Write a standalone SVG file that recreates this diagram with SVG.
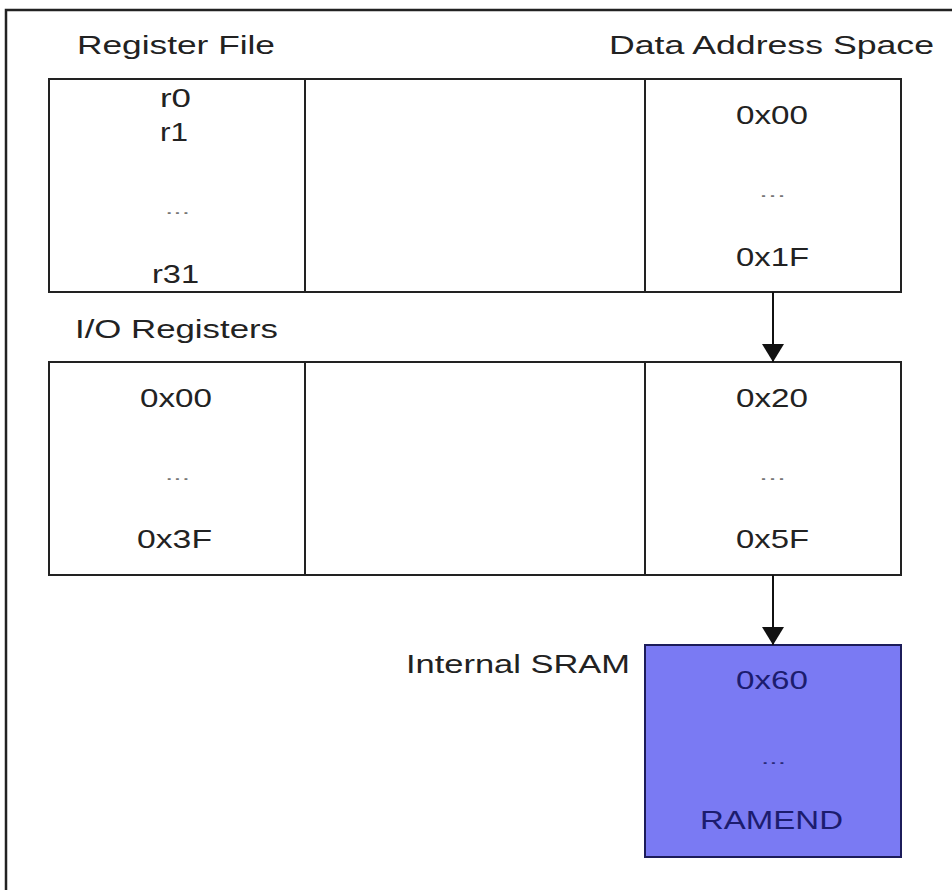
<svg xmlns="http://www.w3.org/2000/svg" width="952" height="890" viewBox="0 0 952 890">
<style>
  .t { font-family: "Liberation Sans", Arial, sans-serif; font-size: 26px; fill: #222; }
  .d { font-family: "Liberation Sans", Arial, sans-serif; font-size: 16px; fill: #777; }
  .box { fill: #ffffff; stroke: #222; stroke-width: 2; }
  .sram { fill: #7a7af3; stroke: #1c1c5a; stroke-width: 2; }
  .st { font-family: "Liberation Sans", Arial, sans-serif; font-size: 26px; fill: #1c1c6e; }
  .sd { font-family: "Liberation Sans", Arial, sans-serif; font-size: 16px; fill: #2a2a7a; }
  .conn { stroke: #111; stroke-width: 2; fill: none; }
</style>
<defs>
  <marker id="arrow" markerUnits="userSpaceOnUse" markerWidth="20" markerHeight="24" refX="18" refY="11" orient="auto">
    <path d="M0,0 L18,11 L0,22 Z" fill="#111"/>
  </marker>
</defs>
<rect x="0" y="0" width="952" height="890" fill="#ffffff"/>
<path d="M6,890 V10 H952" fill="none" stroke="#222" stroke-width="2.5"/>

<g id="title-register-file">
  <text class="t" x="77" y="54" textLength="198" lengthAdjust="spacingAndGlyphs">Register File</text>
</g>
<g id="title-data-address-space">
  <text class="t" x="609" y="54" textLength="325" lengthAdjust="spacingAndGlyphs">Data Address Space</text>
</g>

<g id="register-file">
  <rect class="box" x="49" y="79" width="256" height="213"/>
  <text class="t" x="160" y="107" textLength="31" lengthAdjust="spacingAndGlyphs">r0</text>
  <text class="t" x="160" y="141" textLength="28" lengthAdjust="spacingAndGlyphs">r1</text>
  <text class="d" x="165" y="214" textLength="25" lengthAdjust="spacingAndGlyphs">...</text>
  <text class="t" x="152" y="283" textLength="47" lengthAdjust="spacingAndGlyphs">r31</text>
</g>
<g id="register-file-gap">
  <rect class="box" x="305" y="79" width="340" height="213"/>
</g>
<g id="data-space-registers">
  <rect class="box" x="645" y="79" width="256" height="213"/>
  <text class="t" x="736" y="124" textLength="72" lengthAdjust="spacingAndGlyphs">0x00</text>
  <text class="d" x="759" y="197" textLength="27" lengthAdjust="spacingAndGlyphs">...</text>
  <text class="t" x="736" y="266" textLength="73" lengthAdjust="spacingAndGlyphs">0x1F</text>
</g>

<g id="title-io-registers">
  <text class="t" x="75" y="338" textLength="203" lengthAdjust="spacingAndGlyphs">I/O Registers</text>
</g>

<g id="io-registers">
  <rect class="box" x="49" y="362" width="256" height="213"/>
  <text class="t" x="140" y="407" textLength="72" lengthAdjust="spacingAndGlyphs">0x00</text>
  <text class="d" x="165" y="480" textLength="25" lengthAdjust="spacingAndGlyphs">...</text>
  <text class="t" x="137" y="548" textLength="75" lengthAdjust="spacingAndGlyphs">0x3F</text>
</g>
<g id="io-gap">
  <rect class="box" x="305" y="362" width="340" height="213"/>
</g>
<g id="data-space-io">
  <rect class="box" x="645" y="362" width="256" height="213"/>
  <text class="t" x="736" y="407" textLength="72" lengthAdjust="spacingAndGlyphs">0x20</text>
  <text class="d" x="759" y="480" textLength="27" lengthAdjust="spacingAndGlyphs">...</text>
  <text class="t" x="736" y="548" textLength="73" lengthAdjust="spacingAndGlyphs">0x5F</text>
</g>

<g id="title-internal-sram">
  <text class="t" x="406" y="673" textLength="224" lengthAdjust="spacingAndGlyphs">Internal SRAM</text>
</g>
<g id="internal-sram">
  <rect class="sram" x="645" y="645" width="256" height="212"/>
  <text class="st" x="736" y="689" textLength="72" lengthAdjust="spacingAndGlyphs">0x60</text>
  <text class="sd" x="761" y="764" textLength="25" lengthAdjust="spacingAndGlyphs">...</text>
  <text class="st" x="700" y="829" textLength="143" lengthAdjust="spacingAndGlyphs">RAMEND</text>
</g>

<g id="connectors">
  <line class="conn" x1="773" y1="292" x2="773" y2="362" marker-end="url(#arrow)"/>
  <line class="conn" x1="773" y1="575" x2="773" y2="645" marker-end="url(#arrow)"/>
</g>
</svg>
